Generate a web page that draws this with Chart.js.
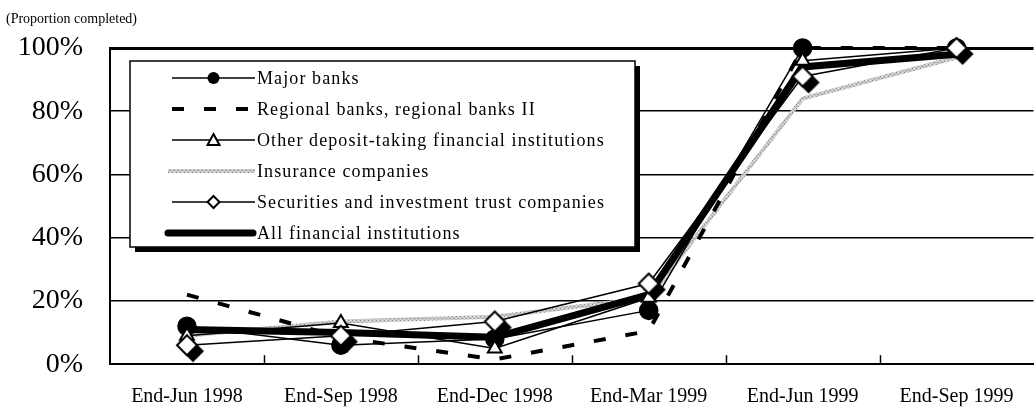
<!DOCTYPE html>
<html>
<head>
<meta charset="utf-8">
<script src="https://cdn.jsdelivr.net/npm/chart.js@4"></script>
<style>
  body { margin: 0; overflow: hidden; background: #fff; }
  #wrap { width: 1044px; height: 408px; }
</style>
</head>
<body>
<div id="wrap"><canvas id="progressChart"></canvas></div>
<script>
const categories = ["End-Jun 1998", "End-Sep 1998", "End-Dec 1998", "End-Mar 1999", "End-Jun 1999", "End-Sep 1999"];
const majorBanks = [12, 6, 8, 17, 100, 100];
const regionalBanks = [22, 8.5, 1.5, 10.5, 100, 100];
const otherDeposit = [9, 13, 5, 21, 96, 100];
const insurance = [9, 13.5, 15, 21, 84, 97];
const securities = [6, 9, 13.5, 25.5, 91, 100];
const allInstitutions = [11, 10, 8.5, 22, 94, 98];
const yTicks = [0, 20, 40, 60, 80, 100];

const serif = "'Liberation Serif', 'Times New Roman', serif";

// grey hatched pattern for the insurance line
function greyPattern() {
  const c = document.createElement("canvas");
  c.width = 4; c.height = 4;
  const g = c.getContext("2d");
  g.fillStyle = "#c8c8c8";
  g.fillRect(0, 0, 4, 4);
  g.fillStyle = "#8a8a8a";
  g.fillRect(0, 0, 1, 1);
  g.fillRect(2, 2, 1, 1);
  g.fillStyle = "#eeeeee";
  g.fillRect(2, 0, 1, 1);
  return g.createPattern(c, "repeat");
}
const greyHatch = greyPattern();

function diamondPath(g, x, y, r) {
  g.beginPath();
  g.moveTo(x, y - r);
  g.lineTo(x + r, y);
  g.lineTo(x, y + r);
  g.lineTo(x - r, y);
  g.closePath();
}

// diamond marker with a black drop shadow
function shadowDiamond() {
  const c = document.createElement("canvas");
  c.width = 48; c.height = 48;
  const g = c.getContext("2d");
  g.fillStyle = "#000";
  diamondPath(g, 30, 30, 11);
  g.fill();
  g.fillStyle = "#fff";
  g.strokeStyle = "#000";
  g.lineWidth = 2;
  diamondPath(g, 24, 24, 10);
  g.fill();
  g.stroke();
  return c;
}

const legendItems = [
  { label: "Major banks", kind: "circle" },
  { label: "Regional banks, regional banks II", kind: "dash" },
  { label: "Other deposit-taking financial institutions", kind: "triangle" },
  { label: "Insurance companies", kind: "grey" },
  { label: "Securities and investment trust companies", kind: "diamond" },
  { label: "All financial institutions", kind: "thick" }
];

const extras = {
  id: "extras",
  afterDraw(chart) {
    const ctx = chart.ctx;
    const area = chart.chartArea;
    ctx.save();
    // unit note
    ctx.fillStyle = "#000";
    ctx.font = "14px " + serif;
    ctx.textBaseline = "middle";
    ctx.textAlign = "left";
    ctx.fillText("(Proportion completed)", 6, 19);

    // category tick marks, pointing up from the axis
    ctx.strokeStyle = "#000";
    ctx.lineWidth = 1.5;
    const step = (area.right - area.left) / categories.length;
    for (let i = 1; i < categories.length; i++) {
      const x = Math.round(area.left + step * i) + 0.5;
      ctx.beginPath();
      ctx.moveTo(x, area.bottom);
      ctx.lineTo(x, area.bottom - 9);
      ctx.stroke();
    }

    // legend box
    const bx = 130, by = 61, bw = 505, bh = 186;
    ctx.fillStyle = "#000";
    ctx.fillRect(bx + 5, by + 5, bw, bh);
    ctx.fillStyle = "#fff";
    ctx.fillRect(bx, by, bw, bh);
    ctx.lineWidth = 1.5;
    ctx.strokeRect(bx, by, bw, bh);

    const x0 = 172, x1 = 255, mid = (x0 + x1) / 2;
    legendItems.forEach((item, i) => {
      const y = 78 + i * 31;
      ctx.setLineDash([]);
      ctx.strokeStyle = "#000";
      if (item.kind === "dash") {
        ctx.fillStyle = "#000";
        for (let k = 0; k < 3; k++) ctx.fillRect(x0 + k * 32, y - 2, 12, 4);
      } else if (item.kind === "grey") {
        ctx.strokeStyle = greyHatch;
        ctx.lineWidth = 4;
        ctx.beginPath(); ctx.moveTo(x0 - 4, y); ctx.lineTo(x1, y); ctx.stroke();
      } else if (item.kind === "thick") {
        ctx.lineWidth = 7;
        ctx.lineCap = "round";
        ctx.beginPath(); ctx.moveTo(x0 - 4, y); ctx.lineTo(x1 - 2, y); ctx.stroke();
        ctx.lineCap = "butt";
      } else {
        ctx.lineWidth = 1.5;
        ctx.beginPath(); ctx.moveTo(x0, y); ctx.lineTo(x1, y); ctx.stroke();
        ctx.lineWidth = 2;
        if (item.kind === "circle") {
          ctx.fillStyle = "#000";
          ctx.beginPath(); ctx.arc(mid, y, 6, 0, Math.PI * 2); ctx.fill();
        } else if (item.kind === "triangle") {
          ctx.fillStyle = "#fff";
          ctx.beginPath();
          ctx.moveTo(mid, y - 6); ctx.lineTo(mid + 6, y + 5); ctx.lineTo(mid - 6, y + 5);
          ctx.closePath(); ctx.fill(); ctx.stroke();
        } else if (item.kind === "diamond") {
          ctx.fillStyle = "#fff";
          diamondPath(ctx, mid, y, 6);
          ctx.fill(); ctx.stroke();
        }
      }
      ctx.fillStyle = "#000";
      ctx.font = "18px " + serif;
      ctx.letterSpacing = "1.1px";
      ctx.textBaseline = "middle";
      ctx.fillText(item.label, 257, y + 1);
      ctx.letterSpacing = "0px";
    });
    ctx.restore();
  }
};

const ctxProgress = document.getElementById("progressChart").getContext("2d");
const progressChart = new Chart(ctxProgress, {
  type: "line",
  data: {
    labels: categories,
    datasets: [
      {
        label: "Securities and investment trust companies",
        data: securities,
        borderColor: "#000",
        borderWidth: 1.5,
        pointStyle: shadowDiamond(),
        order: 1,
      },
      {
        label: "Other deposit-taking financial institutions",
        data: otherDeposit,
        borderColor: "#000",
        borderWidth: 1.5,
        pointStyle: "triangle",
        pointRadius: 8,
        pointBackgroundColor: "#fff",
        pointBorderColor: "#000",
        pointBorderWidth: 2,
        order: 2,
      },
      {
        label: "Major banks",
        data: majorBanks,
        borderColor: "#000",
        borderWidth: 1.5,
        pointStyle: "circle",
        pointRadius: 9,
        pointBackgroundColor: "#000",
        pointBorderColor: "#000",
        order: 3,
      },
      {
        label: "All financial institutions",
        data: allInstitutions,
        borderColor: "#000",
        borderWidth: 7,
        pointRadius: 0,
        order: 4,
      },
      {
        label: "Regional banks, regional banks II",
        data: regionalBanks,
        borderColor: "#000",
        borderWidth: 4,
        borderDash: [12, 20],
        pointRadius: 0,
        order: 5,
      },
      {
        label: "Insurance companies",
        data: insurance,
        borderColor: greyHatch,
        borderWidth: 4,
        pointRadius: 0,
        order: 6,
      },
    ],
  },
  options: {
    responsive: true,
    maintainAspectRatio: false,
    animation: false,
    clip: false,
    elements: { line: { tension: 0 } },
    layout: { padding: { top: 48, right: 0, bottom: 0, left: 0 } },
    plugins: {
      legend: { display: false },
      tooltip: { enabled: false },
    },
    scales: {
      x: {
        offset: true,
        grid: { display: false },
        border: { display: true, color: "#000", width: 2 },
        ticks: { color: "#000", font: { family: serif, size: 20 }, padding: 13, maxRotation: 0 },
        afterFit(scale) { scale.height = 42; },
      },
      y: {
        min: 0,
        max: 100,
        afterBuildTicks(scale) { scale.ticks = yTicks.map(v => ({ value: v })); },
        grid: {
          color: "#000",
          lineWidth: c => (c.tick && c.tick.value === 100 ? 3 : 1.5),
          drawTicks: false,
        },
        border: { display: true, color: "#000", width: 2 },
        ticks: {
          color: "#000",
          font: { family: serif, size: 28 },
          padding: 27,
          callback: v => v + "%",
        },
        afterFit(scale) { scale.width = 110; },
      },
    },
  },
  plugins: [extras],
});
</script>
</body>
</html>
